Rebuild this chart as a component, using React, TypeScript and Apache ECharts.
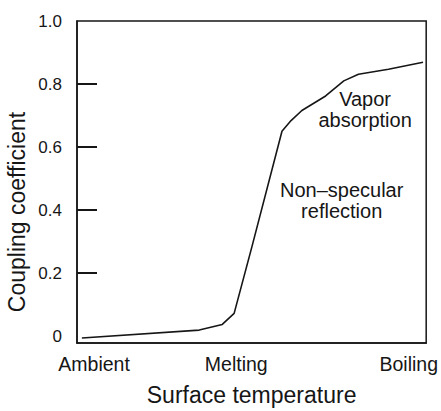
import React, { useEffect, useRef } from "react";
import * as echarts from "echarts";

// Surface temperature (relative position 0..100) vs coupling coefficient
const curveX = [1.4, 35.0, 41.6, 45.0, 50.1, 58.7, 61.3, 64.4, 71.2, 76.4, 80.6, 89.2, 99.1];
const curveY = [-0.006, 0.019, 0.037, 0.072, 0.284, 0.65, 0.684, 0.716, 0.762, 0.81, 0.831, 0.847, 0.869];

const xCategoryNames = ["Ambient", "Melting", "Boiling"];
const xCategoryPos = [4.9, 45.6, 95.0];

const yLabelValues = [0, 0.2, 0.4, 0.6, 0.8, 1.0];
const yTickValues = [0.2, 0.4, 0.6, 0.8];

const annotations = [
  { lines: ["Vapor", "absorption"], x: 82.5, y: 0.72 },
  { lines: ["Non\u2013specular", "reflection"], x: 75.8, y: 0.43 },
];

const FONT = "Liberation Sans, Arial, Helvetica, sans-serif";
const INK = "#161616";

const GRID = { left: 77, right: 13, top: 21, bottom: 63 };
const W = 441;
const H = 411;
const TICK_PX = 20;

export default function App() {
  const ref = useRef<HTMLDivElement>(null);
  useEffect(() => {
    if (!ref.current) return;
    const chart = echarts.init(ref.current, undefined, { renderer: "svg" });
    const data = curveX.map((x, i) => [x, curveY[i]]);
    const fmtY = (v: number) => (Math.abs(v) < 1e-9 ? "0" : v.toFixed(1));

    chart.setOption({
      animation: false,
      backgroundColor: "#ffffff",
      grid: {
        ...GRID,
        show: true,
        borderColor: INK,
        borderWidth: 1.5,
        backgroundColor: "transparent",
      },
      xAxis: {
        type: "value",
        min: 0,
        max: 100,
        name: "Surface temperature",
        nameLocation: "middle",
        nameGap: 40,
        nameTextStyle: { fontFamily: FONT, fontSize: 23, color: INK },
        axisLine: { show: true, onZero: false, lineStyle: { color: INK, width: 1.5 } },
        axisTick: { show: false },
        splitLine: { show: false },
        axisLabel: {
          customValues: xCategoryPos,
          formatter: (v: number) => {
            const i = xCategoryPos.findIndex((p) => Math.abs(p - v) < 1e-6);
            return i >= 0 ? xCategoryNames[i] : "";
          },
          margin: 11,
          fontFamily: FONT,
          fontSize: 19.5,
          color: INK,
        },
      },
      yAxis: {
        type: "value",
        min: -0.022,
        max: 1.0,
        axisLine: { show: true, onZero: false, lineStyle: { color: INK, width: 1.5 } },
        axisTick: { show: false },
        splitLine: { show: false },
        axisLabel: {
          customValues: yLabelValues,
          formatter: (v: number) => fmtY(v),
          margin: 15,
          fontFamily: FONT,
          fontSize: 17,
          color: INK,
        },
      },
      series: [
        {
          type: "line",
          data,
          showSymbol: false,
          symbol: "none",
          lineStyle: { color: INK, width: 1.6 },
          z: 3,
          markPoint: {
            symbol: "rect",
            symbolSize: 0,
            silent: true,
            data: annotations.map((a) => ({
              coord: [a.x, a.y],
              value: a.lines.join("\n"),
              label: {
                show: true,
                formatter: a.lines.join("\n"),
                fontFamily: FONT,
                fontSize: 20,
                lineHeight: 21,
                color: INK,
                align: "center",
                verticalAlign: "middle",
              },
            })),
          },
        },
      ],
    });

    // inward y ticks, placed through the axis scale
    const graphics: any[] = yTickValues.map((v) => {
      const p = chart.convertToPixel({ gridIndex: 0 }, [0, v]) as number[];
      return {
        type: "rect",
        silent: true,
        z: 100,
        shape: { x: GRID.left, y: Math.round(p[1]) - 1, width: TICK_PX, height: 2 },
        style: { fill: INK },
      };
    });
    const midY = (chart.convertToPixel({ gridIndex: 0 }, [0, 0.4]) as number[])[1];
    graphics.push({
      type: "text",
      x: 17,
      y: midY + 2,
      rotation: Math.PI / 2,
      style: {
        text: "Coupling coefficient",
        fontFamily: FONT,
        fontSize: 23,
        fill: INK,
        align: "center",
        verticalAlign: "middle",
      },
    });
    chart.setOption({ graphic: graphics });
    return () => chart.dispose();
  }, []);
  return (
    <div
      ref={ref}
      style={{ position: "fixed", left: 0, top: 0, width: W, height: H, background: "#fff" }}
    />
  );
}
